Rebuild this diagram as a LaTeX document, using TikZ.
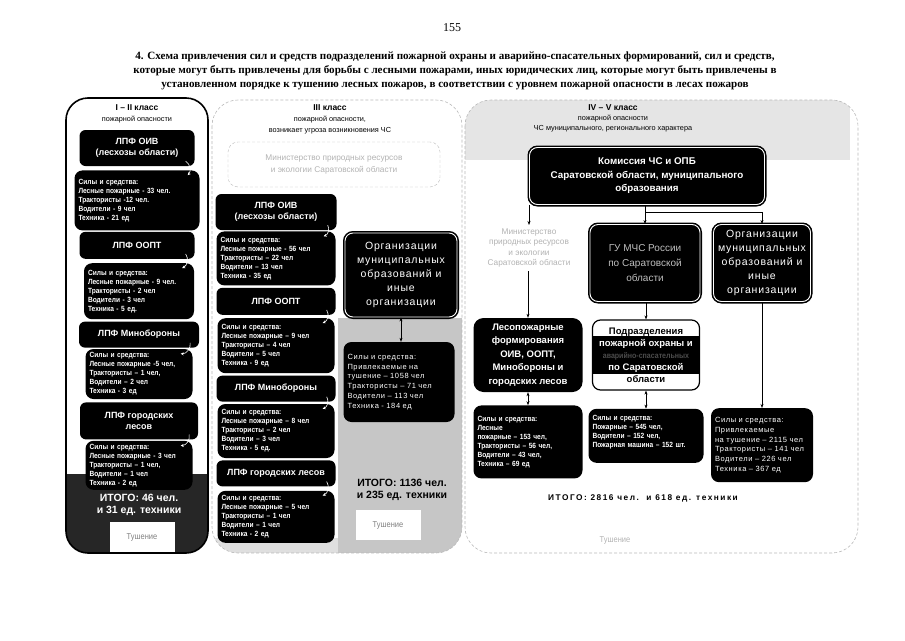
\documentclass[tikz,border=0pt]{standalone}
\usepackage{fontspec}
\setmainfont{Liberation Serif}
\setsansfont{Liberation Sans}
\newfontfamily\narrowsf[FakeStretch=0.88]{Liberation Sans}
\newfontfamily\orgsf[LetterSpace=8]{Liberation Sans}
\newfontfamily\spacedsf[LetterSpace=18]{Liberation Sans}
\usetikzlibrary{arrows.meta, positioning}

\begin{document}
\begin{tikzpicture}[x=1pt, y=-1pt,
    panel/.style={draw=gray!55, densely dashed, line width=0.6pt, rounded corners=26pt},
    klass/.style={font=\sffamily\bfseries\fontsize{8.5}{10}\selectfont},
    hdr/.style={font=\sffamily\fontsize{7.3}{11}\selectfont, align=center},
    minbox/.style={draw=gray!55, densely dashed, rounded corners=10pt, text=gray!60, align=center, font=\sffamily\fontsize{8.3}{11.5}\selectfont},
    lpf/.style={fill=black, rounded corners=6pt, text=white, align=center, inner sep=2pt, font=\sffamily\bfseries\fontsize{9}{11.5}\selectfont},
    sily/.style={fill=black, rounded corners=8pt, text=white, align=left, inner xsep=4pt, inner ysep=3pt, text width=#1, font=\narrowsf\bfseries\fontsize{7.5}{9}\selectfont},
    silyr/.style={sily=#1, font=\orgsf\fontsize{7.5}{9.8}\selectfont},
    dbl/.style={fill=black, draw=white, line width=0.9pt, rounded corners=8pt, align=center, preaction={draw=black, line width=4pt}},
    org/.style={dbl, text=white, font=\orgsf\fontsize{10.5}{14}\selectfont},
    tush/.style={fill=white, text=gray, font=\narrowsf\fontsize{8.5}{10}\selectfont, minimum width=65pt, minimum height=30pt},
    itogo/.style={font=\sffamily\bfseries\fontsize{10.5}{12}\selectfont, align=center},
    link/.style={draw=black, line width=0.5pt, -{Stealth[length=4pt, width=3pt]}},
    both/.style={link, {Stealth[length=4pt, width=3pt]}-{Stealth[length=4pt, width=3pt]}},
    curl/.style={draw=white, line width=0.6pt, -{Stealth[length=3pt, width=3pt]}}
  ]
  \useasboundingbox (0,0) rectangle (905,640);

  % page number and caption
  \node[font=\fontsize{12}{14}\selectfont] (page) at (452,28) {155};
  \node[font=\bfseries\fontsize{11.1}{13.8}\selectfont, align=center] (title) at (455,71)
    {4. Схема привлечения сил и средств подразделений пожарной охраны и аварийно-спасательных формирований, сил и средств,\\
     которые могут быть привлечены для борьбы с лесными пожарами, иных юридических лиц, которые могут быть привлечены в\\
     установленном порядке к тушению лесных пожаров, в соответствии с уровнем пожарной опасности в лесах пожаров};

  % I-II class
  \begin{scope}
    \clip[rounded corners=22pt] (66,98) rectangle (208,553);
    \fill[black!85] (66,474) rectangle (208,553);
  \end{scope}
  \draw[line width=1.6pt, rounded corners=22pt] (66,98) rectangle (208,553);
  \node[klass] (k12) at (137,108) {I – II класс};
  \node[hdr] (k12b) at (137,120) {пожарной опасности};

  \node[lpf, minimum width=115pt, minimum height=36pt] (n1) at (137,148) {ЛПФ ОИВ\\(лесхозы области)};
  \node[sily=117pt, minimum height=60pt, below=4pt of n1] (f1) {Силы и средства:\\Лесные пожарные - 33 чел.\\Трактористы -12 чел.\\Водители - 9 чел\\Техника - 21 ед};
  \node[lpf, minimum width=115pt, minimum height=27pt, below=1pt of f1] (n2) {ЛПФ ООПТ};
  \node[sily=102pt, minimum height=56pt, below=4pt of n2, xshift=2pt] (f2) {Силы и средства:\\Лесные пожарные - 9 чел.\\Трактористы - 2 чел\\Водители - 3 чел\\Техника - 5 ед.};
  \node[lpf, minimum width=120pt, minimum height=26pt, below=2pt of f2] (n3) {ЛПФ Минобороны};
  \node[sily=99pt, minimum height=50pt, below=1pt of n3] (f3) {Силы и средства:\\Лесные пожарные -5 чел,\\Трактористы – 1 чел,\\Водители – 2 чел\\Техника - 3 ед};
  \node[lpf, minimum width=118pt, minimum height=37pt, below=3pt of f3] (n4) {ЛПФ городских\\лесов};
  \node[sily=99pt, minimum height=49pt, below=1pt of n4] (f4) {Силы и средства:\\Лесные пожарные - 3 чел\\Трактористы – 1 чел,\\Водители – 1 чел\\Техника - 2 ед};
  \node[itogo, text=white, below=1pt of f4] (it1) {ИТОГО: 46 чел.\\и 31 ед. техники};
  \node[tush] (tu1) at (142,537) {Тушение};
  \foreach \a/\b in {n1/f1, n2/f2, n3/f3, n4/f4}
    \draw[curl] ([xshift=-9pt, yshift=5pt]\a.south east) to[bend left=50] ([xshift=-12pt, yshift=-5pt]\b.north east);

  % III class
  \begin{scope}
    \clip[rounded corners=26pt] (212,100) rectangle (462,553);
    \fill[gray!45] (338,318) rectangle (462,553);
    \fill[gray!25] (212,538) rectangle (338,553);
  \end{scope}
  \draw[panel] (212,100) rectangle (462,553);
  \node[klass] (k3) at (330,108) {III класс};
  \node[hdr] (k3b) at (330,125.5) {пожарной опасности,\\возникает угроза возникновения ЧС};
  \node[minbox, minimum width=212pt, minimum height=45pt] (min2) at (334,164.5) {Министерство природных ресурсов\\и экологии Саратовской области};

  \node[lpf, minimum width=121pt, minimum height=36pt] (m1) at (276,212) {ЛПФ ОИВ\\(лесхозы области)};
  \node[sily=111pt, minimum height=54pt, below=1pt of m1] (g1) {Силы и средства:\\Лесные пожарные - 56 чел\\Трактористы – 22 чел\\Водители – 13 чел\\Техника - 35 ед};
  \node[lpf, minimum width=119pt, minimum height=27pt, below=2pt of g1] (m2) {ЛПФ ООПТ};
  \node[sily=109pt, minimum height=55pt, below=3pt of m2] (g2) {Силы и средства:\\Лесные пожарные – 9 чел\\Трактористы – 4 чел\\Водители – 5 чел\\Техника - 9 ед};
  \node[lpf, minimum width=119pt, minimum height=26pt, below=2pt of g2] (m3) {ЛПФ Минобороны};
  \node[sily=109pt, minimum height=54pt, below=2pt of m3] (g3) {Силы и средства:\\Лесные пожарные – 8 чел\\Трактористы – 2 чел\\Водители – 3 чел\\Техника - 5 ед.};
  \node[lpf, minimum width=119pt, minimum height=26pt, below=2pt of g3] (m4) {ЛПФ городских лесов};
  \node[sily=109pt, minimum height=52pt, below=4pt of m4] (g4) {Силы и средства:\\Лесные пожарные – 5 чел\\Трактористы – 1 чел\\Водители – 1 чел\\Техника - 2 ед};
  \foreach \a/\b in {m1/g1, m2/g2, m3/g3, m4/g4}
    \draw[curl] ([xshift=-9pt, yshift=5pt]\a.south east) to[bend left=50] ([xshift=-12pt, yshift=-5pt]\b.north east);

  \node[org, minimum width=112pt, minimum height=84pt] (org2) at (401,275) {Организации\\муниципальных\\образований и\\иные\\организации};
  \node[silyr=103pt, minimum height=80pt] (sil2) at (399,382) {Силы и средства:\\Привлекаемые на\\тушение – 1058 чел\\Трактористы – 71 чел\\Водители – 113 чел\\Техника - 184 ед};
  \draw[both] (org2.south) -- (org2.south |- sil2.north);
  \node[itogo] (it2) at (402,490) {ИТОГО: 1136 чел.\\и 235 ед. техники};
  \node[tush] (tu2) at (388,525) {Тушение};

  % IV-V class
  \begin{scope}
    \clip[rounded corners=26pt] (465,100) rectangle (858,553);
    \fill[gray!20] (465,100) rectangle (850,160);
  \end{scope}
  \draw[panel] (465,100) rectangle (858,553);
  \node[klass] (k45) at (613,108) {IV – V класс};
  \node[hdr, font=\sffamily\fontsize{7.3}{10}\selectfont] (k45b) at (613,124) {пожарной опасности\\ЧС муниципального, регионального характера};

  \node[dbl, text=white, font=\sffamily\bfseries\fontsize{9.8}{13.5}\selectfont, minimum width=235pt, minimum height=57pt] (kchs) at (647,176) {Комиссия ЧС и ОПБ\\Саратовской области, муниципального\\образования};
  \node[hdr, text=gray!60, font=\sffamily\fontsize{8.3}{10.5}\selectfont] (min3) at (529,248) {Министерство\\природных ресурсов\\и экологии\\Саратовской области};
  \node[dbl, text=gray!50, font=\sffamily\fontsize{10}{15}\selectfont, minimum width=110pt, minimum height=77pt] (mchs) at (645,263) {ГУ МЧС России\\по Саратовской\\области};
  \node[org, minimum width=97pt, minimum height=77pt] (org3) at (762,263) {Организации\\муниципальных\\образований и\\иные\\организации};

  \node[lpf, rounded corners=10pt, minimum width=109pt, minimum height=74pt, font=\sffamily\bfseries\fontsize{9.5}{13.5}\selectfont] (lpf3) at (528,355) {Лесопожарные\\формирования\\ОИВ, ООПТ,\\Минобороны и\\городских лесов};
  \node[draw, fill=white, line width=1.2pt, rounded corners=8pt, minimum width=107pt, minimum height=70pt] (podr3) at (646,355) {};
  \fill[black] ([xshift=1.5pt, yshift=-17pt]podr3.north west) rectangle ([xshift=-1.5pt, yshift=17pt]podr3.south east);
  \node[align=center, font=\sffamily\bfseries\fontsize{9.5}{12}\selectfont] (podr3t) at (podr3) {Подразделения\\\textcolor{white}{пожарной охраны и}\\\textcolor{black!70}{\narrowsf\fontsize{8}{12}\selectfont аварийно-спасательных}\\\textcolor{white}{по Саратовской}\\области};

  \node[sily=101pt, minimum height=73pt, below=13pt of lpf3] (sl3) {Силы и средства:\\Лесные\\пожарные – 153 чел,\\Трактористы – 56 чел,\\Водители – 43 чел,\\Техника – 69 ед};
  \node[sily=107pt, minimum height=54pt, below=18pt of podr3] (sp3) {Силы и средства:\\Пожарные – 545 чел,\\Водители – 152 чел,\\Пожарная машина – 152 шт.\\~};
  \node[silyr=94pt, minimum height=74pt, below=106pt of org3] (so3) {Силы и средства:\\Привлекаемые\\на тушение – 2115 чел\\Трактористы – 141 чел\\Водители – 226 чел\\Техника – 367 ед};

  \path (mchs.north |- kchs.south) coordinate (kt);
  \draw[link] (min3.north |- kchs.south) -- (min3.north);
  \draw[link] (kt) -- (mchs.north);
  \draw[link] ([yshift=-7pt]kt) -| (org3.north);
  \draw[link] (lpf3.north |- min3.south) -- (lpf3.north);
  \draw[link] (podr3.north |- mchs.south) -- (podr3.north);
  \draw[both] (lpf3.south) -- (sl3.north);
  \draw[both] (podr3.south) -- (sp3.north);
  \draw[link] (org3.south) -- (so3.north);

  \node[font=\spacedsf\bfseries\fontsize{8.3}{10}\selectfont] (it3) at (643,498) {ИТОГО: 2816 чел.\ \ и 618 ед. техники};
  \node[text=gray!60, font=\narrowsf\fontsize{8.5}{10}\selectfont] (tu3) at (615,540) {Тушение};
\end{tikzpicture}
\end{document}
